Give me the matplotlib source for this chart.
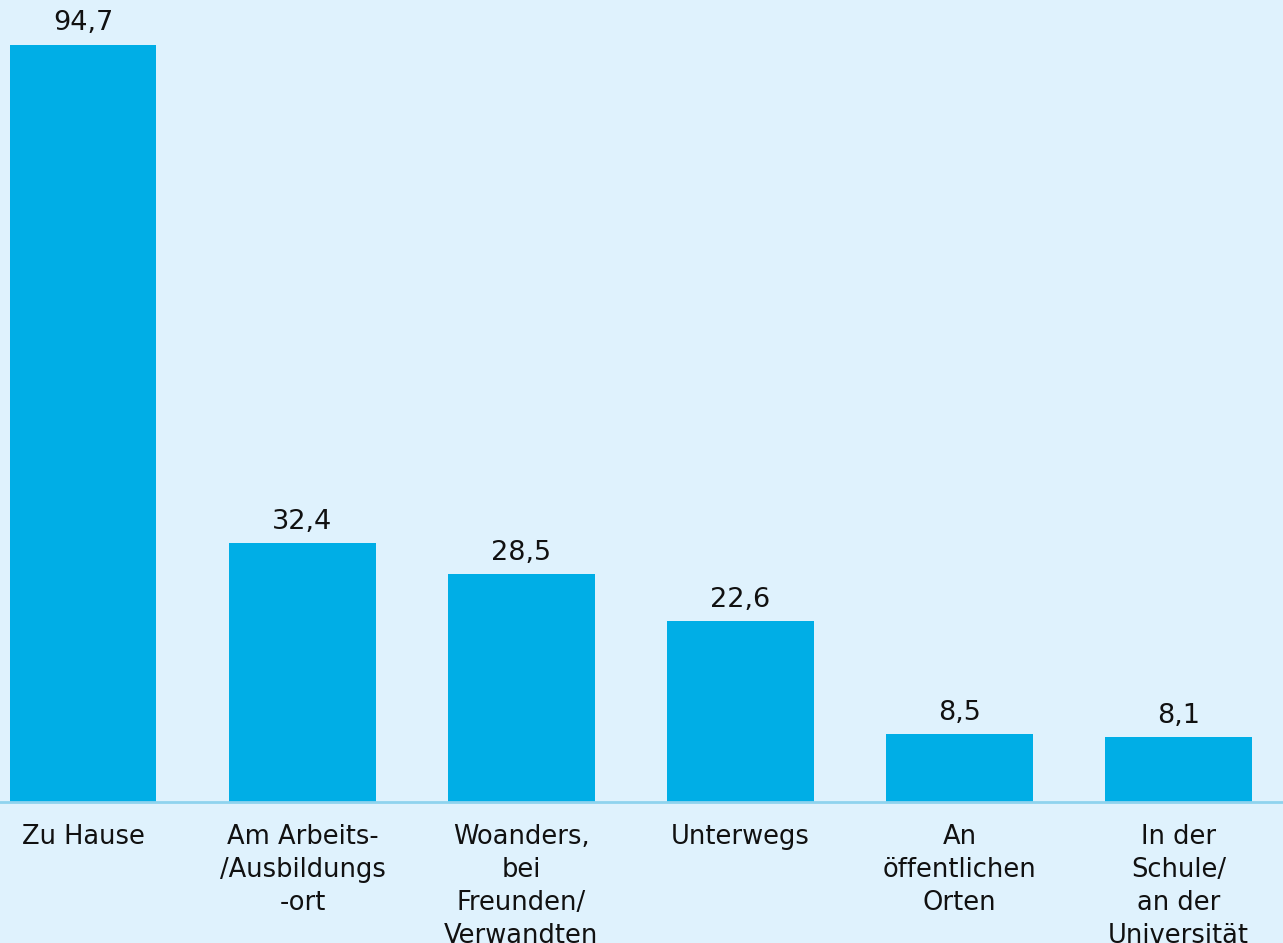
import matplotlib
matplotlib.use("Agg")
import matplotlib.pyplot as plt

categories = ["Zu Hause", "Am Arbeits-\n/Ausbildungs\n-ort", "Woanders,\nbei\nFreunden/\nVerwandten",
              "Unterwegs", "An\nöffentlichen\nOrten", "In der\nSchule/\nan der\nUniversität"]
values = [94.7, 32.4, 28.5, 22.6, 8.5, 8.1]
value_labels = ["94,7", "32,4", "28,5", "22,6", "8,5", "8,1"]

BG = "#dff2fd"
BAR = "#00aee6"
LINE = "#8fd3ee"

fig = plt.figure(figsize=(12.83, 9.43), dpi=100)
fig.patch.set_facecolor(BG)
ax = fig.add_axes([0, 141/943, 1, 802/943])
ax.set_facecolor(BG)

x = list(range(len(values)))
bars = ax.bar(x, values, width=0.667, color=BAR, zorder=2)
ax.set_xlim(-0.381, 5.477)
ax.set_ylim(0, 100.3)

for xi, v, lab in zip(x, values, value_labels):
    ax.annotate(lab, (xi, v), xytext=(0, 6), textcoords="offset points",
                ha="center", va="bottom", fontsize=19.5, color="#111111")

for s in ["top", "right", "left"]:
    ax.spines[s].set_visible(False)
ax.spines["bottom"].set_color(LINE)
ax.spines["bottom"].set_linewidth(2)
ax.spines["bottom"].set_zorder(3)
ax.set_yticks([])
ax.set_xticks(x)
ax.set_xticklabels(categories, fontsize=18.5, color="#111111", linespacing=1.34,
                   multialignment="center")
ax.tick_params(axis="x", length=0, pad=16)

fig.savefig("out.png", dpi=100, facecolor=BG)
